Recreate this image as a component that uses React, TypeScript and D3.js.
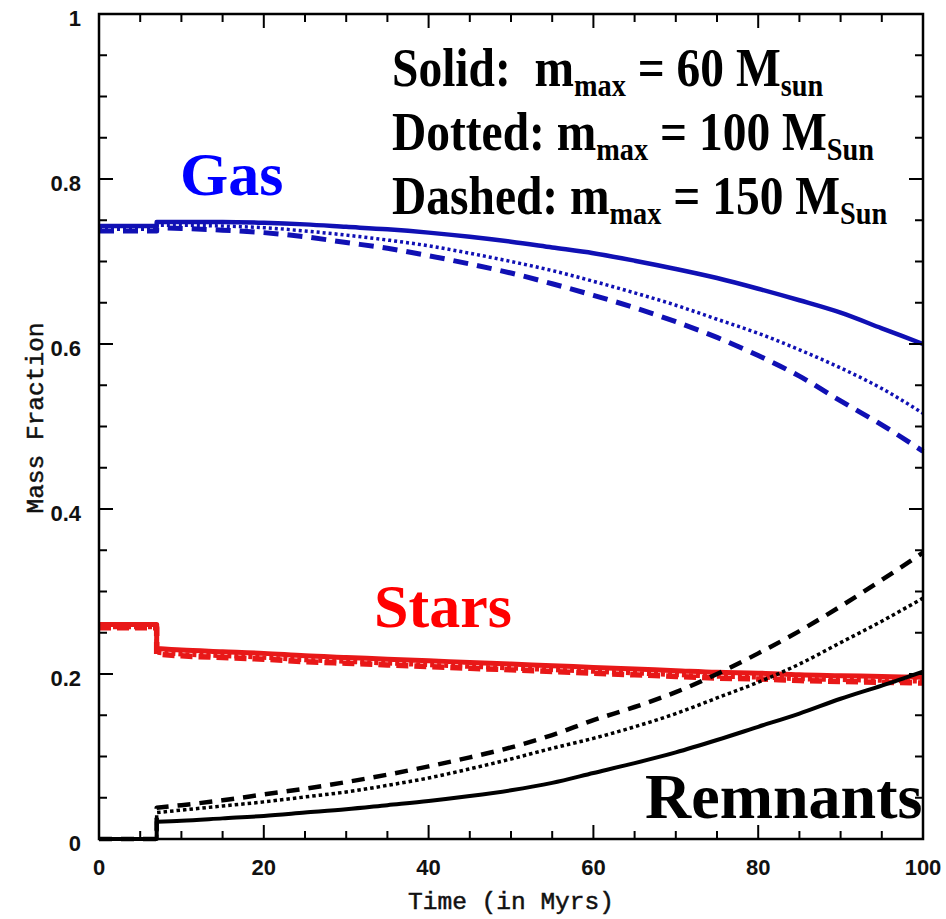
import React from "react";
import * as d3 from "d3";

// ---------- data ----------
const T_PRE = [0, 7];
const T_POST = [7, 10, 15, 20, 25, 30, 35, 40, 45, 50, 55, 60, 65, 70, 75, 80, 85, 90, 95, 100];

const GAS_SOLID_PRE = [0.743, 0.743];
const GAS_SOLID = [0.748, 0.748, 0.748, 0.747, 0.745, 0.742, 0.739, 0.735, 0.730, 0.724, 0.717, 0.710, 0.701, 0.691, 0.680, 0.667, 0.653, 0.638, 0.619, 0.600];
const GAS_DOTTED_PRE = [0.739, 0.739];
const GAS_DOTTED = [0.744, 0.744, 0.743, 0.741, 0.737, 0.732, 0.726, 0.719, 0.710, 0.700, 0.689, 0.676, 0.662, 0.647, 0.630, 0.613, 0.593, 0.571, 0.546, 0.516];
const GAS_DASHED_PRE = [0.737, 0.737];
const GAS_DASHED = [0.741, 0.740, 0.738, 0.735, 0.730, 0.723, 0.716, 0.707, 0.697, 0.686, 0.673, 0.659, 0.644, 0.627, 0.608, 0.586, 0.561, 0.531, 0.502, 0.470];

const STARS_SOLID_PRE = [0.260, 0.260];
const STARS_SOLID = [0.231, 0.229, 0.227, 0.225, 0.222, 0.220, 0.218, 0.216, 0.214, 0.212, 0.210, 0.208, 0.206, 0.204, 0.202, 0.201, 0.199, 0.198, 0.197, 0.196];
const STARS_DOTTED_PRE = [0.257, 0.257];
const STARS_DOTTED = [0.226, 0.224, 0.222, 0.220, 0.217, 0.215, 0.213, 0.211, 0.209, 0.207, 0.205, 0.203, 0.201, 0.199, 0.197, 0.196, 0.194, 0.193, 0.192, 0.191];
const STARS_DASHED_PRE = [0.256, 0.256];
const STARS_DASHED = [0.224, 0.222, 0.220, 0.218, 0.215, 0.213, 0.211, 0.209, 0.207, 0.205, 0.203, 0.201, 0.199, 0.197, 0.195, 0.194, 0.192, 0.191, 0.190, 0.189];

const REM_SOLID_PRE = [0, 0];
const REM_SOLID = [0.021, 0.022, 0.025, 0.028, 0.032, 0.036, 0.041, 0.046, 0.052, 0.059, 0.068, 0.080, 0.092, 0.105, 0.120, 0.136, 0.152, 0.170, 0.186, 0.203];
const REM_DOTTED_PRE = [0, 0];
const REM_DOTTED = [0.032, 0.035, 0.040, 0.045, 0.051, 0.057, 0.065, 0.074, 0.085, 0.097, 0.110, 0.122, 0.136, 0.152, 0.171, 0.190, 0.212, 0.238, 0.264, 0.292];
const REM_DASHED_PRE = [0, 0];
const REM_DASHED = [0.038, 0.041, 0.047, 0.054, 0.061, 0.069, 0.078, 0.088, 0.099, 0.111, 0.126, 0.144, 0.160, 0.178, 0.200, 0.225, 0.252, 0.282, 0.314, 0.347];

const X_MAJOR = [0, 20, 40, 60, 80, 100];
const X_TICK_LABELS = ["0", "20", "40", "60", "80", "100"];
const Y_MAJOR = [0, 0.2, 0.4, 0.6, 0.8, 1];
const Y_TICK_LABELS = ["0", "0.2", "0.4", "0.6", "0.8", "1"];

// ---------- layout ----------
const W = 946, H = 919;
const L = 99, R = 923, T = 14, B = 839;

const GAS_COLOR = "#1010b4";
const STAR_COLOR = "#e81818";
const REM_COLOR = "#000000";

export default function App() {
  const x = d3.scaleLinear().domain([0, 100]).range([L, R]);
  const y = d3.scaleLinear().domain([0, 1]).range([B, T]);
  const lin = d3.line<[number, number]>().x(d => x(d[0])).y(d => y(d[1])).curve(d3.curveLinear);
  const smooth = d3.line<[number, number]>().x(d => x(d[0])).y(d => y(d[1])).curve(d3.curveMonotoneX);

  const path = (pre: number[], post: number[]) => {
    const a = lin(T_PRE.map((t, i) => [t, pre[i]] as [number, number]).concat([[T_POST[0], post[0]]])) || "";
    const b = smooth(T_POST.map((t, i) => [t, post[i]] as [number, number])) || "";
    return a + "L" + b.slice(1);
  };

  const xMinor = d3.range(0, 101, 5);
  const yMinor = d3.range(0, 21).map(i => i * 0.05);

  const series = [
    { pre: GAS_SOLID_PRE, post: GAS_SOLID, color: GAS_COLOR, w: 4.5, dash: undefined },
    { pre: GAS_DOTTED_PRE, post: GAS_DOTTED, color: GAS_COLOR, w: 3.5, dash: "3 3" },
    { pre: GAS_DASHED_PRE, post: GAS_DASHED, color: GAS_COLOR, w: 5, dash: "15 9" },
    { pre: STARS_DASHED_PRE, post: STARS_DASHED, color: STAR_COLOR, w: 5.5, dash: "12 6" },
    { pre: STARS_DOTTED_PRE, post: STARS_DOTTED, color: STAR_COLOR, w: 4.5, dash: "4 3" },
    { pre: STARS_SOLID_PRE, post: STARS_SOLID, color: STAR_COLOR, w: 5, dash: undefined },
    { pre: REM_SOLID_PRE, post: REM_SOLID, color: REM_COLOR, w: 4, dash: undefined },
    { pre: REM_DOTTED_PRE, post: REM_DOTTED, color: REM_COLOR, w: 3.5, dash: "3.5 3" },
    { pre: REM_DASHED_PRE, post: REM_DASHED, color: REM_COLOR, w: 4.5, dash: "13 9" },
  ];

  const tickFont = "'Liberation Sans', Arial, sans-serif";
  const monoFont = "'Liberation Mono', 'DejaVu Sans Mono', monospace";
  const serif = "'Liberation Serif', 'Times New Roman', serif";

  const legend = [
    { a: "Solid:  m", n: " = 60 M", s: "sun", y: 86 },
    { a: "Dotted: m", n: " = 100 M", s: "Sun", y: 150 },
    { a: "Dashed: m", n: " = 150 M", s: "Sun", y: 214 },
  ];

  return (
    <svg width={W} height={H} style={{ position: "absolute", left: 0, top: 0, background: "#fff" }}>
      <rect x={0} y={0} width={W} height={H} fill="#fff" />
      <g>
        {series.map((s, i) => (
          <path key={i} d={path(s.pre, s.post)} fill="none" stroke={s.color} strokeWidth={s.w}
            strokeDasharray={s.dash} strokeLinejoin="round" />
        ))}
      </g>
      {/* frame */}
      <rect x={L} y={T} width={R - L} height={B - T} fill="none" stroke="#000" strokeWidth={2.5} />
      {/* ticks */}
      <g stroke="#000" strokeWidth={2}>
        {xMinor.map(v => {
          const major = v % 20 === 0;
          const len = major ? 14 : 8;
          return (
            <g key={"x" + v}>
              <line x1={x(v)} x2={x(v)} y1={B} y2={B - len} />
              <line x1={x(v)} x2={x(v)} y1={T} y2={T + len} />
            </g>
          );
        })}
        {yMinor.map((v, i) => {
          const major = i % 4 === 0;
          const len = major ? 14 : 8;
          return (
            <g key={"y" + i}>
              <line x1={L} x2={L + len} y1={y(v)} y2={y(v)} />
              <line x1={R} x2={R - len} y1={y(v)} y2={y(v)} />
            </g>
          );
        })}
      </g>
      {/* tick labels */}
      <g fontFamily={tickFont} fontSize={22} fontWeight="bold" fill="#111">
        {X_MAJOR.map((v, i) => (
          <text key={"xl" + i} x={x(v)} y={875} textAnchor="middle">{X_TICK_LABELS[i]}</text>
        ))}
        {Y_MAJOR.map((v, i) => (
          <text key={"yl" + i} x={81} y={y(v) + 12} textAnchor="end">{Y_TICK_LABELS[i]}</text>
        ))}
      </g>
      {/* axis titles */}
      <g fontFamily={monoFont} fontSize={24.5} fill="#111" stroke="#111" strokeWidth={0.5}>
        <text x={(L + R) / 2} y={909} textAnchor="middle">Time (in Myrs)</text>
        <text transform={`translate(43, 418) rotate(-90)`} textAnchor="middle">Mass Fraction</text>
      </g>

      {/* big labels */}
      <text x={180} y={195} fontFamily={serif} fontWeight="bold" fontSize={62} fill="#0000ff">Gas</text>
      <text x={374} y={627} fontFamily={serif} fontWeight="bold" fontSize={62} fill="#ff0000">Stars</text>
      <text x={645} y={818} fontFamily={serif} fontWeight="bold" fontSize={64} fill="#000">Remnants</text>

      {/* legend */}
      {legend.map((l, i) => (
        <g key={"lg" + i} transform={`translate(392, ${l.y}) scale(1.01, 1.15)`}>
          <text x={0} y={0} fontFamily={serif} fontWeight="bold" fontSize={47} fill="#000" style={{ whiteSpace: "pre" }}>
            <tspan>{l.a}</tspan>
            <tspan fontSize={28} dy={9}>max</tspan>
            <tspan dy={-9}>{l.n}</tspan>
            <tspan fontSize={28} dy={9}>{l.s}</tspan>
          </text>
        </g>
      ))}
    </svg>
  );
}
